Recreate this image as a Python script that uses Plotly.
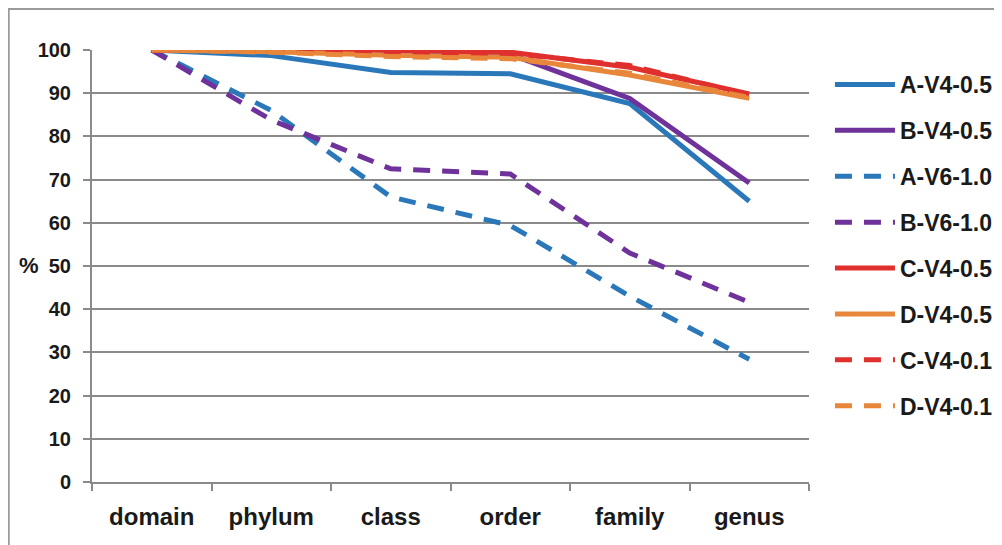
import plotly.graph_objects as go

categories = ["domain", "phylum", "class", "order", "family", "genus"]

a_v4_05 = [100, 98.7, 94.8, 94.5, 87.6, 65.0]
b_v4_05 = [100, 100, 99.6, 99.0, 88.8, 69.2]
a_v6_10 = [100, 86.0, 66.0, 59.4, 43.0, 28.4]
b_v6_10 = [100, 83.8, 72.5, 71.3, 53.0, 41.6]
c_v4_05 = [100, 100, 100, 99.5, 96.0, 89.8]
d_v4_05 = [100, 99.6, 98.8, 98.3, 94.2, 88.8]
c_v4_01 = [100, 100, 99.6, 99.2, 96.4, 89.6]
d_v4_01 = [100, 99.5, 98.5, 98.0, 94.6, 89.0]

series = [
    ("A-V4-0.5", a_v4_05, "#2a78b9", "solid"),
    ("B-V4-0.5", b_v4_05, "#6e329a", "solid"),
    ("A-V6-1.0", a_v6_10, "#2a78b9", "17px,12px"),
    ("B-V6-1.0", b_v6_10, "#6e329a", "17px,12px"),
    ("C-V4-0.5", c_v4_05, "#e0302e", "solid"),
    ("D-V4-0.5", d_v4_05, "#e8873a", "solid"),
    ("C-V4-0.1", c_v4_01, "#e0302e", "17px,12px"),
    ("D-V4-0.1", d_v4_01, "#e8873a", "17px,12px"),
]

FONT = "Liberation Sans, Arial, sans-serif"
GRID = "#8a8a8a"
TXT = "#1a1a1a"

fig = go.Figure()
for name, vals, color, dash in series:
    fig.add_trace(go.Scatter(
        x=categories, y=vals, name=name, mode="lines",
        legendgroup=name,
        line=dict(color=color, width=5, dash=dash),
        cliponaxis=False,
    ))

fig.update_layout(
    width=1002, height=545,
    margin=dict(l=84, r=199, t=42, b=71),
    paper_bgcolor="white", plot_bgcolor="white",
    font=dict(family=FONT, color=TXT, size=20, weight="bold"),
    showlegend=True,
    legend=dict(
        x=(832 - 8 - 84) / 719, xanchor="left", y=1.0 - (84 - 50 - 21) / 432, yanchor="top",
        font=dict(family=FONT, size=23, color=TXT, weight="bold"),
        itemwidth=60, tracegroupgap=13, bgcolor="rgba(0,0,0,0)",
        borderwidth=0,
    ),
    xaxis=dict(
        type="category", range=[-0.5, 5.5],
        tickson="boundaries", ticks="outside", ticklen=7, tickwidth=2, tickcolor=GRID,
        showline=True, linecolor=GRID, linewidth=2,
        showgrid=False, ticklabelstandoff=12,
        tickfont=dict(family=FONT, size=24, color=TXT, weight="bold"),
    ),
    yaxis=dict(
        range=[0, 100], tickvals=[0, 10, 20, 30, 40, 50, 60, 70, 80, 90, 100],
        ticks="outside", ticklen=7, tickwidth=2, tickcolor=GRID,
        showline=True, linecolor=GRID, linewidth=2,
        showgrid=True, gridcolor=GRID, gridwidth=2,
        zeroline=False, ticklabelstandoff=8,
        tickfont=dict(family=FONT, size=20, color=TXT, weight="bold"),
    ),
    annotations=[dict(
        text="%", xref="paper", yref="paper", x=(21 - 84) / 719, y=(474 - 257) / 432,
        xanchor="center", yanchor="middle", showarrow=False,
        font=dict(family=FONT, size=22, color=TXT, weight="bold"),
    )],
    shapes=[dict(
        type="rect", xref="paper", yref="paper",
        x0=(0.5 - 84) / 719, x1=1.6, y0=-0.6, y1=(474 - 1) / 432,
        line=dict(color="#9a9a9a", width=2), layer="below",
    )],
)

fig.write_html("out.html")
